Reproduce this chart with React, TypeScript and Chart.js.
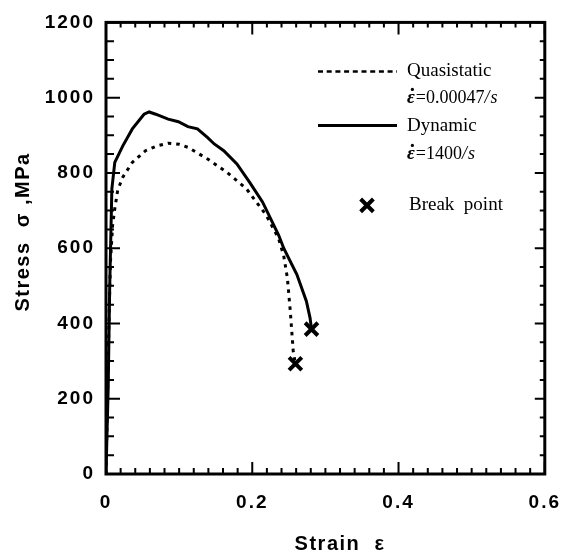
import { useEffect, useRef } from 'react';
import { Chart, registerables } from 'chart.js';

Chart.register(...registerables);

// ---- data ----
const quasiStrain = [0, 0.002, 0.004, 0.006, 0.009, 0.012, 0.016, 0.023, 0.036, 0.054, 0.07, 0.085, 0.1, 0.112, 0.139, 0.165, 0.192, 0.219, 0.236, 0.243, 0.248, 0.252, 0.256, 0.259];
const quasiStress = [0, 200, 400, 560, 660, 705, 754, 789, 828, 859, 872, 879, 876, 868, 837, 802, 758, 688, 626, 580, 521, 433, 327, 293];
const dynStrain = [0, 0.003, 0.005, 0.008, 0.012, 0.023, 0.036, 0.052, 0.059, 0.068, 0.085, 0.099, 0.112, 0.125, 0.139, 0.148, 0.161, 0.179, 0.196, 0.214, 0.236, 0.243, 0.261, 0.274, 0.279, 0.281];
const dynStress = [0, 230, 490, 757, 828, 872, 917, 956, 962, 956, 943, 936, 923, 917, 894, 877, 859, 824, 776, 723, 635, 600, 530, 459, 415, 385];
const breakStrain = [0.259, 0.281];
const breakStress = [293, 385];

const seriesNames = ['Quasistatic', 'Dynamic', 'Break point'];
const rateValues = ['0.00047', '1400'];
const xTitle = 'Strain  ε';
const yTitle = 'Stress  σ ,MPa';

const X_MIN = 0, X_MAX = 0.6, X_STEP = 0.2, X_MINOR = 0.02;
const Y_MIN = 0, Y_MAX = 1200, Y_STEP = 200, Y_MINOR = 50;

const SANS = '"Liberation Sans", Arial, Helvetica, sans-serif';
const SERIF = '"Liberation Serif", "Times New Roman", Times, serif';

const toPoints = (xs: number[], ys: number[]) => xs.map((x, i) => ({ x, y: ys[i] }));

function drawCross(ctx: CanvasRenderingContext2D, x: number, y: number, r: number) {
  const d = r * Math.SQRT1_2;
  ctx.beginPath();
  ctx.moveTo(x - d, y - d);
  ctx.lineTo(x + d, y + d);
  ctx.moveTo(x + d, y - d);
  ctx.lineTo(x - d, y + d);
  ctx.stroke();
}

const framePlugin = {
  id: 'frameAndLegend',
  beforeUpdate(chart: any) {
    chart.ctx.letterSpacing = '2px';
  },
  beforeDraw(chart: any) {
    chart.ctx.letterSpacing = '2px';
  },
  afterDraw(chart: any) {
    const ctx: CanvasRenderingContext2D = chart.ctx;
    const { left, right, top, bottom } = chart.chartArea;
    const xs = chart.scales.x;
    const ys = chart.scales.y;
    ctx.save();
    ctx.letterSpacing = '0px';
    ctx.strokeStyle = '#000';
    ctx.fillStyle = '#000';
    ctx.lineCap = 'butt';

    // inward ticks on all four sides
    ctx.lineWidth = 2;
    ctx.beginPath();
    const nx = Math.round((X_MAX - X_MIN) / X_MINOR);
    const perMajorX = Math.round(X_STEP / X_MINOR);
    for (let i = 0; i <= nx; i++) {
      const px = xs.getPixelForValue(X_MIN + i * X_MINOR);
      const major = i % perMajorX === 0;
      ctx.moveTo(px, bottom);
      ctx.lineTo(px, bottom - (major ? 12 : 6));
      ctx.moveTo(px, top);
      ctx.lineTo(px, top + (major ? 12 : 5));
    }
    const ny = Math.round((Y_MAX - Y_MIN) / Y_MINOR);
    const perMajorY = Math.round(Y_STEP / Y_MINOR);
    for (let i = 0; i <= ny; i++) {
      const py = ys.getPixelForValue(Y_MIN + i * Y_MINOR);
      const major = i % perMajorY === 0;
      ctx.moveTo(left, py);
      ctx.lineTo(left + (major ? 14 : 8), py);
      ctx.moveTo(right, py);
      ctx.lineTo(right - (major ? 10 : 5), py);
    }
    ctx.stroke();

    // frame
    ctx.lineWidth = 3;
    ctx.strokeRect(left, top, right - left, bottom - top);

    // axis titles
    ctx.letterSpacing = '1.5px';
    ctx.font = `bold 20px ${SANS}`;
    ctx.textAlign = 'center';
    ctx.textBaseline = 'middle';
    ctx.fillText(xTitle, 340, 544);
    ctx.save();
    ctx.translate(23, 232);
    ctx.rotate(-Math.PI / 2);
    ctx.fillText(yTitle, 0, 0);
    ctx.restore();

    // legend
    ctx.letterSpacing = '0px';
    const lx0 = left + 212; // sample start
    const lx1 = left + 291; // sample end
    const tx = left + 301; // text start
    ctx.textAlign = 'left';
    ctx.textBaseline = 'alphabetic';

    // quasistatic sample
    ctx.lineWidth = 2.5;
    ctx.setLineDash([5, 3.7]);
    ctx.beginPath();
    ctx.moveTo(lx0, top + 49);
    ctx.lineTo(lx1, top + 49);
    ctx.stroke();
    ctx.setLineDash([]);
    ctx.font = `19px ${SERIF}`;
    ctx.fillText(seriesNames[0], tx, top + 54);

    const drawRate = (val: string, baseY: number) => {
      let x = tx;
      ctx.font = `italic bold 19px ${SERIF}`;
      ctx.fillText('ε', x, baseY);
      const ew = ctx.measureText('ε').width;
      ctx.beginPath();
      ctx.arc(x + ew / 2 + 1.5, baseY - 14, 1.6, 0, Math.PI * 2);
      ctx.fill();
      x += ew + 1;
      ctx.font = `18px ${SERIF}`;
      ctx.fillText('=', x, baseY);
      x += ctx.measureText('=').width;
      ctx.fillText(val, x, baseY);
      x += ctx.measureText(val).width;
      ctx.font = `italic 18px ${SERIF}`;
      ctx.fillText('/', x, baseY);
      x += ctx.measureText('/').width + 1;
      ctx.fillText('s', x, baseY);
    };
    drawRate(rateValues[0], top + 81);

    // dynamic sample
    ctx.lineWidth = 3;
    ctx.beginPath();
    ctx.moveTo(lx0, top + 103);
    ctx.lineTo(lx1, top + 103);
    ctx.stroke();
    ctx.font = `19px ${SERIF}`;
    ctx.fillText(seriesNames[1], tx, top + 109);
    drawRate(rateValues[1], top + 137);

    // break point
    ctx.lineWidth = 4;
    drawCross(ctx, left + 261, top + 183, 9);
    ctx.font = `19px ${SERIF}`;
    ctx.fillText(seriesNames[2].replace(' ', '  '), tx + 2, top + 188);

    ctx.restore();
  },
};

export default function App() {
  const canvasRef = useRef<HTMLCanvasElement | null>(null);

  useEffect(() => {
    document.body.style.margin = '0';
    const canvas = canvasRef.current;
    if (!canvas) return;
    Chart.defaults.color = '#000';
    const chart = new Chart(canvas, {
      type: 'scatter',
      data: {
        datasets: [
          {
            label: seriesNames[0],
            data: toPoints(quasiStrain, quasiStress),
            showLine: true,
            borderColor: '#000',
            borderWidth: 3,
            borderDash: [3.5, 5],
            pointRadius: 0,
            tension: 0,
            fill: false,
          },
          {
            label: seriesNames[1],
            data: toPoints(dynStrain, dynStress),
            showLine: true,
            borderColor: '#000',
            borderWidth: 3,
            pointRadius: 0,
            tension: 0,
            fill: false,
          },
          {
            label: seriesNames[2],
            data: toPoints(breakStrain, breakStress),
            showLine: false,
            pointStyle: 'crossRot',
            pointRadius: 9,
            pointBorderWidth: 4,
            borderColor: '#000',
            backgroundColor: '#000',
          } as any,
        ],
      },
      options: {
        animation: false,
        responsive: true,
        maintainAspectRatio: false,
        layout: { padding: { top: 19, right: 22, left: 0, bottom: 0 } },
        plugins: {
          legend: { display: false },
          tooltip: { enabled: false },
          title: { display: false },
        },
        scales: {
          x: {
            type: 'linear',
            min: X_MIN,
            max: X_MAX,
            afterFit: (s: any) => { s.height = 81; },
            grid: { display: false, drawTicks: false },
            border: { display: false },
            ticks: {
              stepSize: X_STEP,
              padding: 17,
              color: '#000',
              font: { family: SANS, size: 19, weight: 'bold' },
              callback: (v: any) => (Number(v) === 0 ? '0' : Number(v).toFixed(1)),
            },
          },
          y: {
            type: 'linear',
            min: Y_MIN,
            max: Y_MAX,
            afterFit: (s: any) => { s.width = 106; },
            grid: { display: false, drawTicks: false },
            border: { display: false },
            ticks: {
              stepSize: Y_STEP,
              padding: 11,
              color: '#000',
              font: { family: SANS, size: 19, weight: 'bold' },
              callback: (v: any) => String(v),
            },
          },
        },
      },
      plugins: [framePlugin],
    } as any);
    return () => chart.destroy();
  }, []);

  return (
    <div style={{ position: 'absolute', left: 0, top: 0, width: 578, height: 555, background: '#fff' }}>
      <canvas ref={canvasRef} style={{ display: 'block' }} />
    </div>
  );
}
